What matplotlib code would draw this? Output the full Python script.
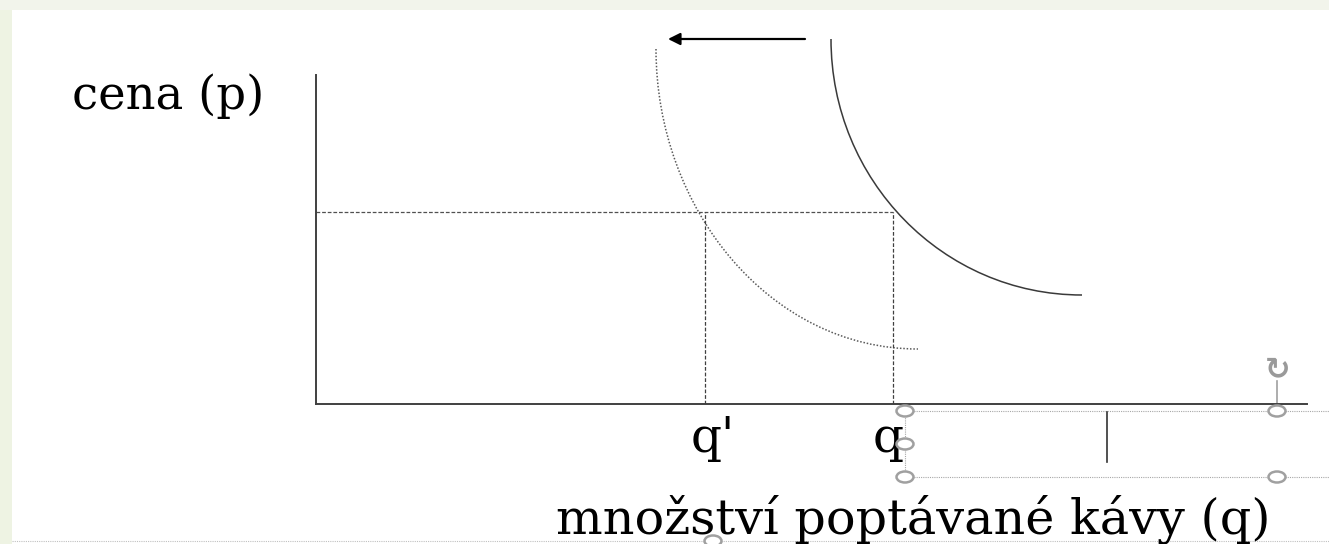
# demand for coffee - shift of demand curve to the left
import matplotlib
matplotlib.use("Agg")
import matplotlib.pyplot as plt
from matplotlib.path import Path
from matplotlib.patches import PathPatch, Ellipse, Rectangle

# data (1 unit = 10 px on the slide)
q_max = 99.1
p_max = 32.9
price_level = 19.2
q_new = 38.9
q_old = 57.7

# demand curves as cubic bezier: start, ctrl1, ctrl2, end
d_old_q = [51.5, 51.5, 62.7, 76.6]
d_old_p = [36.5, 22.4, 10.9, 10.9]
d_new_q = [34.0, 34.0, 45.4, 60.2]
d_new_p = [35.5, 19.5, 5.5, 5.5]

# shift arrow
arrow_q = [48.9, 35.2]
arrow_p = 36.5

# labels
y_label = "cena (p)"
x_label = "množství poptávané kávy (q)"
tick_labels = ["q'", "q"]
tick_label_q = [39.7, 57.2]

# leftover selection box of the text field (powerpoint screenshot)
box_q = [58.9, 101.3]
box_p = [-0.7, -7.3]
handle_q = [58.9, 58.9, 58.9, 96.1, 96.1, 39.7]
handle_p = [-0.7, -4.0, -7.3, -0.7, -7.3, -13.7]
cursor_q = 79.1
cursor_p = [-0.8, -5.8]
border_p = -13.7

fig = plt.figure(figsize=(13.29, 5.44), dpi=100, facecolor="white")

# light green slide border
fig.add_artist(Rectangle((0, 0), 12 / 1329, 1, transform=fig.transFigure,
                         facecolor="#eef3e3", edgecolor="none"))
fig.add_artist(Rectangle((0, 1 - 10 / 544), 1, 10 / 544, transform=fig.transFigure,
                         facecolor="#f2f4eb", edgecolor="none"))

ax = fig.add_axes([316 / 1329, 140 / 544, 991 / 1329, 329 / 544])
ax.set_xlim(0, q_max)
ax.set_ylim(0, p_max)
ax.patch.set_alpha(0)
for s in ["top", "right"]:
    ax.spines[s].set_visible(False)
for s in ["left", "bottom"]:
    ax.spines[s].set_color("#404040")
    ax.spines[s].set_linewidth(1.4)
ax.set_xticks([])
ax.set_yticks([])

codes = [Path.MOVETO, Path.CURVE4, Path.CURVE4, Path.CURVE4]

# original demand
ax.add_patch(PathPatch(Path(list(zip(d_old_q, d_old_p)), codes), facecolor="none",
                       edgecolor="#3a3a3a", lw=1.1, clip_on=False))
# new demand (dotted)
ax.add_patch(PathPatch(Path(list(zip(d_new_q, d_new_p)), codes), facecolor="none",
                       edgecolor="#5a5a5a", lw=1.1, linestyle=(0, (1, 1.2)), clip_on=False))

# guide lines
dash = (0, (3, 1.5))
ax.plot([0, q_old], [price_level, price_level], color="#505050", lw=0.9, ls=dash)
ax.plot([q_new, q_new], [0, price_level], color="#404040", lw=0.9, ls=dash)
ax.plot([q_old, q_old], [0, price_level], color="#404040", lw=0.9, ls=dash)

# arrow
ax.annotate("", xy=(arrow_q[1], arrow_p), xytext=(arrow_q[0], arrow_p),
            arrowprops=dict(arrowstyle="-|>", color="black", lw=1.6, mutation_scale=18,
                            shrinkA=0, shrinkB=0),
            annotation_clip=False)

serif = ["DejaVu Serif"]
ax.text(-14.75, 29.5, y_label, ha="center", va="baseline", fontsize=33.5,
        family=serif, clip_on=False)
for lab, qq in zip(tick_labels, tick_label_q):
    ax.text(qq, -4.8, lab, ha="center", va="baseline", fontsize=35,
            family=serif, clip_on=False)
ax.text(59.75, -12.9, x_label, ha="center", va="baseline", fontsize=35.5,
        family=serif, clip_on=False)

# selection box artefacts
sel = dict(color="#a8a8a8", lw=0.8, ls=(0, (1, 1)), clip_on=False)
ax.plot(box_q, [box_p[0], box_p[0]], **sel)
ax.plot(box_q, [box_p[1], box_p[1]], **sel)
ax.plot([box_q[0], box_q[0]], box_p, **sel)
ax.plot([-30.4, 101.3], [border_p, border_p], color="#c0c0c0", lw=0.8,
        ls=(0, (1, 1)), clip_on=False)
ax.plot([cursor_q, cursor_q], cursor_p, color="#333333", lw=1.2, clip_on=False)
ax.plot([96.1, 96.1], [0, 2.3], color="#a0a0a0", lw=1.2, clip_on=False)
ax.text(96.2, 3.4, "↻", ha="center", va="center", fontsize=22, color="#9a9a9a",
        fontweight="bold", family=["DejaVu Sans"], clip_on=False)
for hq, hp in zip(handle_q, handle_p):
    ax.add_patch(Ellipse((hq, hp), 1.7, 1.1, facecolor="white", edgecolor="#a0a0a0",
                         lw=1.8, clip_on=False, zorder=5))

fig.savefig("out.png", dpi=100, facecolor="white")
